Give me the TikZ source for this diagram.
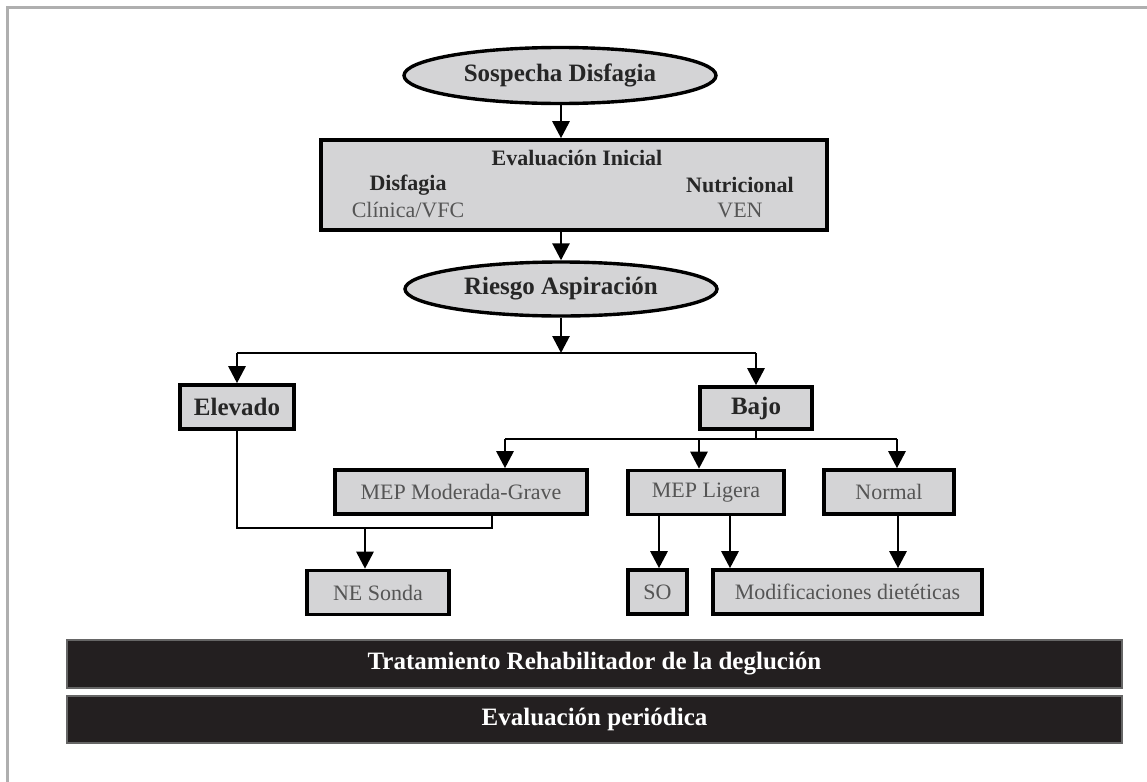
\documentclass[tikz,border=0pt]{standalone}
\usepackage{fontspec}
\setmainfont{Liberation Serif}
\usetikzlibrary{arrows.meta,shapes.geometric,calc}
\definecolor{boxgray}{RGB}{212,212,214}
\definecolor{barblack}{RGB}{35,31,32}
\definecolor{inkgray}{RGB}{85,85,85}
\definecolor{framegray}{RGB}{175,175,175}

\begin{document}
\begin{tikzpicture}[x=0.5pt, y=-0.5pt, >=Stealth,
    oval/.style={ellipse, draw, line width=1.7pt, fill=boxgray, minimum width=156pt, minimum height=28pt, inner sep=0pt,
      font=\fontsize{12.5}{14}\selectfont\bfseries, text=black!85},
    box/.style={rectangle, draw, line width=1.8pt, fill=boxgray, inner sep=0pt, minimum height=22pt},
    hbox/.style={box, font=\fontsize{12.5}{14}\selectfont\bfseries, text=black!85},
    pbox/.style={box, font=\fontsize{11}{13}\selectfont, text=inkgray},
    bar/.style={rectangle, fill=barblack, draw=black!60, line width=0.6pt, inner sep=0pt, minimum width=527.5pt,
      font=\fontsize{12.5}{14}\selectfont\bfseries, text=white},
    hd/.style={font=\fontsize{11}{13}\selectfont\bfseries, text=black!85, inner sep=0pt},
    sub/.style={font=\fontsize{11}{13}\selectfont, text=inkgray, inner sep=0pt},
    arr/.style={-{Triangle[length=8.5pt,width=8.5pt]}, line width=1.4pt},
    ln/.style={line width=1.4pt}]
  \useasboundingbox (0,0) rectangle (1147,782);
  % ---- frame
  \draw[framegray, line width=1.5pt] (7,782) -- (7,7) -- (1147,7);
  % ---- top
  \node[oval] (sosp) at (560,75.5) {Sospecha Disfagia};
  \node[box, minimum width=253pt, minimum height=45pt] (eval) at (574,185) {};
  \node[hd] (evt) at (577,158) {Evaluación Inicial};
  \node[hd] (disf) at (408,185) {Disfagia};
  \node[sub] (clin) at (408,210) {Clínica/VFC};
  \node[hd] (nutr) at (740,185) {Nutricional};
  \node[sub] (ven) at (740,210) {VEN};
  \node[oval, minimum height=27pt] (riesgo) at (561,289) {Riesgo Aspiración};
  \draw[arr] (sosp.south -| 561,0) -- (eval.north -| 561,0);
  \draw[arr] (eval.south -| 561,0) -- (riesgo.north -| 561,0);
  % ---- risk level
  \node[hbox, minimum width=57pt] (elev) at (237,407) {Elevado};
  \node[hbox, minimum width=56pt, minimum height=21pt] (bajo) at (756,408) {Bajo};
  \coordinate (split) at (561,353);
  \draw[arr] (riesgo.south -| split) -- (split);
  \draw[ln] (elev.north |- split) -- (bajo.north |- split);
  \draw[arr] (elev.north |- split) -- (elev.north);
  \draw[arr] (bajo.north |- split) -- (bajo.north);
  % ---- nutritional state
  \node[pbox, minimum width=126pt] (mod) at (461,492) {MEP Moderada-Grave};
  \node[pbox, minimum width=78pt] (lig) at (706,492.5) {MEP Ligera};
  \node[pbox, minimum width=65pt] (norm) at (889,492) {Normal};
  \coordinate (bsplit) at (756,439);
  \draw[ln] (bajo.south) -- (bsplit);
  \draw[ln] (505,439) -- (897,439);
  \draw[arr] (505,439) -- (mod.north -| 505,0);
  \draw[arr] (699,439) -- (lig.north -| 699,0);
  \draw[arr] (897,439) -- (norm.north -| 897,0);
  % ---- feeding
  \node[pbox, minimum width=71pt] (sonda) at (378,592.5) {NE Sonda};
  \node[pbox, minimum width=29.5pt] (so) at (657.5,592) {SO};
  \node[pbox, minimum width=134.5pt] (dieta) at (847.5,592) {Modificaciones dietéticas};
  \coordinate (join) at (365,528);
  \draw[ln] (elev.south) -- (elev.south |- join) -- (492,528) -- (mod.south -| 492,0);
  \draw[arr] (join) -- (sonda.north -| join);
  \draw[arr] (lig.south -| 659,0) -- (so.north -| 659,0);
  \draw[arr] (lig.south -| 730,0) -- (dieta.north -| 730,0);
  \draw[arr] (norm.south -| 898,0) -- (dieta.north -| 898,0);
  % ---- bottom bars
  \node[bar, minimum height=24pt] (trat) at (594.5,664) {Tratamiento Rehabilitador de la deglución};
  \node[bar, minimum height=23.5pt] (peri) at (594.5,719.5) {Evaluación periódica};
\end{tikzpicture}
\end{document}
